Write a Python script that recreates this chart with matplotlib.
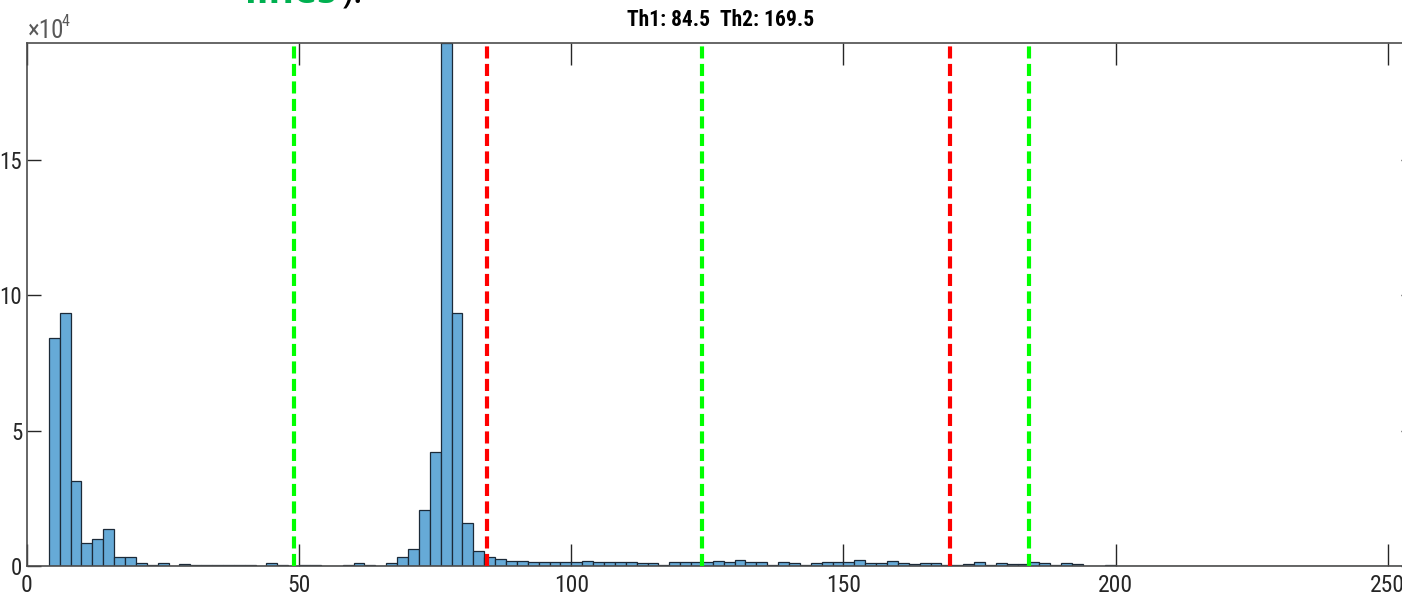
import numpy as np
import matplotlib
matplotlib.use("Agg")
import matplotlib.pyplot as plt
from matplotlib.ticker import FuncFormatter

narrow = ['Liberation Sans Narrow', 'DejaVu Sans Condensed', 'Roboto Condensed', 'Liberation Sans']
plt.rcParams['font.family'] = narrow

# histogram of grey levels, bin width 2, first bin starts at 4
bin_width = 2
bin_start = 4
counts = [
    84400, 93600, 31300, 8650, 10100, 13600, 3200, 3300, 1250, 400,
    1000, 100, 600, 200, 200, 200, 500, 200, 500, 100,
    1000, 500, 100, 500, 300, 100, 100, 200, 1000, 500,
    100, 1100, 3200, 6400, 20800, 42200, 193300, 93400, 16000, 5700,
    3400, 2500, 1800, 1800, 1600, 1500, 1500, 1500, 1500, 2000,
    1600, 1350, 1350, 1350, 1000, 1200, 500, 1600, 1600, 1600,
    1500, 1800, 1500, 2300, 1600, 1600, 500, 1600, 1200, 500,
    1200, 1600, 1600, 1600, 2100, 1100, 1100, 1700, 1200, 900,
    1000, 1100, 400, 400, 900, 1500, 400, 1000, 900, 900,
    1500, 1100, 400, 1000, 900, 100, 100, 500,
    0, 0, 0, 0, 0, 0, 0, 0, 0, 0,
    0, 0, 0, 0, 0, 0, 0, 0, 0, 0,
    0, 0, 0, 0, 0, 0, 0, 0,
]
thresholds = [84.5, 169.5]
class_means = [49, 124, 184]

counts = np.array(counts)
left_edges = bin_start + bin_width * np.arange(len(counts))

fig = plt.figure(figsize=(14.02, 6.07), dpi=100)
ax = fig.add_axes([27 / 1402, 41 / 607, 1388 / 1402, 523 / 607])

ax.bar(left_edges, counts, width=bin_width, align='edge',
       color='#66aad7', edgecolor='#1c2a38', linewidth=0.9, zorder=2)

for t in thresholds:
    ax.axvline(t, color='#ff0000', linestyle=(0, (2.9, 1.3)), linewidth=3.0, zorder=3)
for m in class_means:
    ax.axvline(m, color='#00ff00', linestyle=(0, (2.9, 1.3)), linewidth=3.0, zorder=3)

ax.set_xlim(0, 255)
ax.set_ylim(0, counts.max())
ax.set_xticks([0, 50, 100, 150, 200, 250])
ax.set_yticks([0, 50000, 100000, 150000])
ax.yaxis.set_major_formatter(FuncFormatter(lambda v, p: f"{v / 1e4:g}"))

grey = '#262626'
for s in ax.spines.values():
    s.set_color('#4d4d4d')
    s.set_linewidth(1.2)
ax.tick_params(axis='both', direction='in', colors=grey, labelsize=17,
               width=1.0, top=True, right=True)
ax.tick_params(axis='x', length=16, pad=6)
ax.tick_params(axis='y', length=10, pad=3.5, labelsize=16.5)

ax.set_title(f"Th1: {thresholds[0]}  Th2: {thresholds[1]}",
             fontsize=15.5, fontweight='bold', color='black', pad=12)

# exponent label above the y axis
fig.text(28 / 1402, 1 - 38 / 607, "\u00d710", color='#595959', fontsize=18, va='baseline')
fig.text(62 / 1402, 1 - 26 / 607, "4", color='#595959', fontsize=11.5, va='baseline')

# tail of the caption line above the figure
fig.text(245 / 1402, 1 - 3 / 607, "lines", color='#00b050', fontsize=28,
         fontweight='bold', family=['Open Sans', 'DejaVu Sans'], va='baseline')
fig.text(342 / 1402, 1 - 3 / 607, ").", color='black', fontsize=28,
         family=['Open Sans', 'DejaVu Sans'], va='baseline')

fig.savefig('out.png', dpi=100, facecolor='white')
